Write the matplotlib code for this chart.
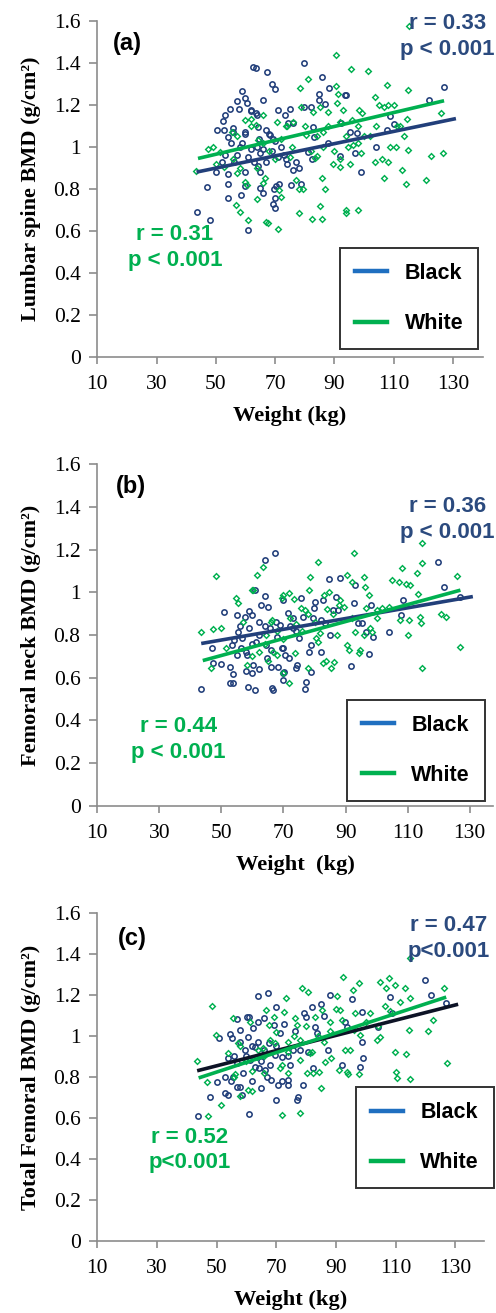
import matplotlib
matplotlib.use("Agg")
import matplotlib.pyplot as plt
from matplotlib.lines import Line2D

# ---- data (weight kg, BMD g/cm2) ----
a_black_wt = [43.7, 47.2, 48, 50.3, 53.1, 52.5, 52.6, 54, 54.8, 54, 54, 54, 55.8, 55.8, 57, 57.9,
              58.9, 60, 60.5, 60, 60, 58.4, 61, 60, 62.6, 63.7, 62, 63.6, 64.2, 64.6, 64.4, 65,
              64.8, 66, 66, 67.4, 69, 70, 67.1, 68.2, 69.3, 69.6, 70.2, 71.4, 69.3, 70, 70, 71,
              73.4, 75, 74.5, 76, 73.7, 74.1, 76, 75.3, 77, 77.9, 78.9, 79.9, 79.9, 82, 82.8, 81.1,
              82.3, 83.2, 85.8, 84.8, 84.8, 86.7, 88.1, 87.9, 91.8, 92.4, 93.7, 94, 95.2, 97.1,
              97.7, 98.9, 104, 107.9, 108.7, 110, 121.9, 126.9,
              57, 58, 59, 61, 62, 63, 64, 65, 66, 67, 68, 69, 70, 71, 72, 73, 56, 60, 62, 64,
              53, 55, 50, 52]
a_black_bmd = [0.69, 0.81, 0.65, 1.08, 1.15, 1.125, 1.08, 1.045, 1.18, 0.87, 0.825, 0.755, 1.09,
               1.07, 1.22, 1.18, 1.265, 1.235, 1.21, 1.06, 0.88, 0.77, 0.605, 0.815, 1.38, 1.375,
               1.175, 1.16, 1.095, 1.04, 0.91, 0.88, 0.805, 0.78, 1.225, 1.355, 1.30, 1.275, 1.08,
               1.055, 1.04, 0.80, 0.815, 0.825, 0.73, 0.71, 0.755, 1.175, 1.15, 1.18, 1.115, 1.115,
               0.94, 0.92, 0.89, 0.82, 0.93, 0.9, 0.825, 1.40, 1.19, 1.19, 1.095, 0.975, 0.94,
               1.045, 1.335, 1.25, 1.225, 1.205, 1.28, 1.02, 0.955, 1.115, 1.245, 1.245, 1.07,
               0.97, 1.065, 0.88, 1.0, 1.08, 1.145, 1.11, 1.225, 1.285,
               0.96, 1.0, 1.02, 0.95, 0.99, 0.93, 1.0, 0.97, 0.99, 0.93, 1.06, 0.98, 1.03, 0.95,
               1.0, 0.96, 0.93, 1.07, 1.17, 1.15, 0.96, 1.02, 0.88, 0.93]
a_white_wt = [43.3, 47.4, 49.1, 51.3, 50.2, 52.7, 55.5, 55.8, 57.3, 56.8, 58, 59.9, 60.4, 61,
              61.8, 63.6, 64.4, 63.9, 66, 66.5, 67, 67.6, 71, 71.9, 71.4, 70.5, 73.8, 75.6, 77.2,
              78, 78, 79.4, 78.5, 81, 78.8, 80.3, 82.8, 82.4, 83.5, 84.1, 85, 85, 85.8, 85.8, 86.7,
              87.9, 90.4, 90.4, 91.3, 90.8, 89.6, 91.8, 93, 94, 93.8, 94.6, 95.7, 95.4, 96.3, 97.9,
              98.2, 99.4, 99.1, 101.4, 103.8, 105, 103.8, 106, 106.6, 106.9, 107.9, 108.1, 108.7,
              110.1, 110.9, 112.9, 113.4, 114.3, 114.5, 114.8, 114.8, 115.2, 121, 122.5, 126.1,
              126.6,
              60, 62, 57, 66, 68, 70, 72, 74, 76, 80, 82, 84, 86, 88, 92, 94, 96, 98, 100, 104,
              108, 111, 112, 58, 64, 66, 75, 86, 90, 92, 98, 102]
a_white_bmd = [0.885, 0.99, 1.0, 0.975, 0.92, 0.905, 1.07, 0.94, 0.875, 0.725, 0.69, 0.835, 0.82,
               0.65, 1.135, 1.105, 1.035, 0.75, 1.15, 0.85, 0.64, 0.635, 0.61, 0.76, 0.795, 1.12,
               1.1, 1.0, 0.84, 0.80, 0.685, 0.80, 1.28, 1.325, 1.19, 1.055, 1.165, 0.655, 0.945,
               0.955, 1.19, 0.72, 0.85, 0.655, 0.80, 1.165, 1.44, 1.29, 1.25, 1.21, 0.92, 0.905,
               1.175, 0.685, 0.70, 1.0, 1.37, 0.92, 1.01, 0.70, 1.175, 1.16, 0.97, 1.36, 1.24,
               1.20, 0.93, 0.94, 0.85, 1.19, 1.295, 0.93, 1.0, 1.20, 1.0, 0.89, 1.05, 0.825, 1.135,
               0.985, 1.27, 1.575, 0.84, 0.955, 1.16, 0.97,
               1.13, 1.1, 1.05, 1.02, 0.98, 0.94, 1.04, 1.1, 1.12, 1.1, 0.98, 1.05, 1.07, 1.1,
               1.12, 1.05, 1.13, 1.1, 1.05, 1.1, 1.2, 1.1, 1.1, 0.9, 0.9, 0.83, 0.95, 1.0, 0.98,
               0.94, 1.02, 1.05]

b_black_wt = [43.5, 47.1, 47.4, 49.8, 50.8, 52.7, 52.7, 53.8, 53.5, 54.1, 53.8, 55, 54.9, 55.4,
              56.2, 56.5, 57.5, 58.1, 58.6, 58.9, 58.9, 60, 60.2, 60.9, 60.7, 61.3, 62.1, 62.6,
              63.9, 63.9, 64.5, 65, 64.8, 65.6, 66.2, 66.7, 67.4, 67.7, 68.2, 68.8, 69.6, 69.9,
              69.9, 70.1, 70.4, 71.5, 71.7, 73.1, 73.1, 74, 74.2, 74.9, 75.8, 76.3, 76.9, 77.4,
              78.3, 79, 79, 79.5, 79.9, 80.1, 82.2, 82.2, 82.7, 83.3, 84.7, 85.1, 85.9, 87, 87.5,
              88.1, 91.7, 92.6, 93.1, 93.9, 95.3, 96.6, 97.7, 98.3, 98.8, 103.9, 108.5, 108,
              119.9, 121.7, 126.8,
              56, 58, 60, 62, 64, 66, 68, 70, 72, 74, 60, 58, 62, 66, 70]
b_black_bmd = [0.547, 0.737, 0.667, 0.662, 0.906, 0.652, 0.573, 0.573, 0.753, 0.777, 0.617,
               0.894, 0.706, 0.816, 0.737, 0.784, 0.886, 0.706, 0.558, 0.914, 0.831, 0.894, 0.659,
               0.542, 1.011, 0.769, 0.863, 0.941, 1.152, 0.983, 0.753, 0.933, 0.691, 0.831, 0.55,
               0.542, 1.183, 0.863, 0.652, 0.847, 0.737, 0.964, 0.589, 0.628, 0.706, 0.902, 0.691,
               0.878, 0.831, 0.647, 0.659, 0.784, 0.972, 0.886, 0.547, 0.581, 0.722, 0.753, 0.628,
               0.878, 0.925, 0.956, 0.722, 0.870, 0.964, 0.855, 1.061, 0.80, 0.917, 0.98, 0.917,
               1.069, 0.655, 0.948, 1.034, 0.855, 0.855, 0.816, 0.711, 0.941, 0.792, 0.813, 0.964,
               0.894, 1.144, 1.023, 0.98,
               0.84, 0.72, 0.76, 0.80, 0.84, 0.73, 0.79, 0.74, 0.84, 0.82, 0.62, 0.63, 0.64, 0.65,
               0.62]
b_white_wt = [43.4, 46.8, 47.4, 48.4, 49.8, 51.6, 54.6, 55.4, 56.8, 58.1, 59.7, 60.2, 61.6, 63.4,
              64.5, 66.2, 66.7, 68, 69.4, 69.9, 71.8, 71.8, 73.3, 73.6, 75.5, 76.9, 78.3, 78.5,
              77.9, 81, 80.4, 81, 81.8, 82.6, 83.1, 83.6, 84.7, 85.2, 86.2, 87.1, 88.1, 89.4, 90.5,
              90.5, 91.2, 92.1, 92.6, 92.9, 94.2, 94.8, 95.8, 96.4, 96.6, 97.5, 97.8, 98.5, 100.1,
              101.7, 104.9, 107.1, 108.1, 107.6, 109.6, 110.1, 110.6, 110.4, 112.9, 113.2, 114,
              114.3, 114.6, 114.6, 114.6, 120.9, 122.5, 125.9, 126.8,
              60, 62, 64, 66, 68, 70, 72, 74, 76, 78, 80, 84, 86, 88, 92, 96, 100, 104, 70, 65]
b_white_bmd = [0.816, 0.644, 0.827, 1.078, 0.831, 0.737, 0.975, 0.948, 0.863, 0.659, 1.011,
               1.011, 1.081, 1.12, 0.80, 0.870, 0.722, 0.706, 0.972, 0.988, 0.998, 0.573, 0.967,
               0.714, 0.925, 0.917, 1.011, 1.07, 0.644, 1.144, 0.784, 0.769, 0.808, 0.670, 0.988,
               0.678, 1.0, 0.644, 0.675, 0.80, 0.964, 0.933, 1.081, 0.753, 0.730, 1.05, 1.186,
               0.816, 0.714, 0.730, 1.073, 1.027, 0.925, 0.988, 0.831, 0.816, 0.917, 0.925, 1.058,
               1.05, 1.116, 0.870, 1.038, 0.80, 1.034, 0.870, 1.089, 0.991, 0.886, 0.855, 1.23,
               1.139, 0.647, 0.898, 0.886, 1.078, 0.745,
               0.70, 0.72, 0.76, 0.86, 0.82, 0.78, 0.88, 0.85, 0.82, 0.90, 0.86, 0.92, 0.9, 0.94,
               0.88, 0.8, 0.88, 0.93, 0.62, 0.68]

c_black_wt = [43.7, 47.8, 50, 50.8, 52.8, 53.9, 53.9, 54.5, 55.1, 55.4, 56.8, 57, 57.9, 57.9,
              58.5, 59.6, 60.1, 61, 60.7, 61, 61.2, 62.3, 62.9, 63.8, 64, 64.4, 64.8, 65.9, 66.3,
              67.4, 67.7, 68.2, 69.1, 69.6, 69.8, 70, 70.5, 71.3, 71.9, 72.6, 73.8, 73.8, 74.7,
              75.8, 76.2, 76.9, 77.2, 78, 78.9, 79.3, 80, 80.8, 81.9, 82.5, 83, 83.8, 85, 86.1,
              87.5, 88.1, 92, 93.1, 93.7, 95.4, 98.2, 98.7, 99.1, 98.7, 104, 108, 108.8, 120, 122,
              126.9,
              55, 57, 59, 60, 62, 63, 64, 65, 66, 68, 70, 72, 74, 62, 67, 56, 58, 53]
c_black_bmd = [0.611, 0.704, 0.777, 0.989, 0.720, 0.891, 0.712, 1.010, 0.989, 0.802, 0.867,
               1.082, 1.030, 0.753, 0.712, 0.932, 1.095, 1.095, 0.997, 0.618, 0.883, 1.038, 0.948,
               1.070, 1.196, 0.842, 0.745, 1.087, 0.834, 1.212, 0.965, 0.785, 1.054, 0.908, 0.688,
               1.144, 0.761, 1.014, 0.899, 1.057, 0.761, 0.785, 0.859, 0.932, 1.025, 0.688, 0.704,
               0.932, 0.761, 1.111, 1.095, 0.924, 1.14, 0.842, 1.046, 1.014, 1.156, 1.1, 0.932,
               1.201, 0.859, 1.070, 1.046, 1.180, 0.850, 0.973, 0.891, 1.119, 1.046, 1.189, 1.114,
               1.274, 1.201, 1.163,
               0.78, 0.75, 0.82, 0.9, 0.95, 0.85, 0.97, 0.88, 0.93, 0.86, 0.95, 0.78, 0.9, 0.78,
               0.8, 0.9, 0.97, 0.8]
c_white_wt = [43.3, 46.9, 47, 48.5, 49.8, 51.4, 53.9, 55.6, 56.2, 57.3, 57.9, 60.7, 61.2, 63.4,
              65.5, 66.6, 67.7, 69.1, 69.6, 71.3, 71.9, 72.5, 73.4, 73.8, 74.1, 76.4, 76.9, 78, 78,
              78.6, 80.2, 80.8, 81.4, 82.5, 83, 84.2, 85, 85.3, 86.4, 87.9, 88.4, 90.3, 90.9, 91.4,
              92.3, 93.1, 93.7, 94.2, 94.8, 95.9, 96.5, 97.6, 97.9, 98.2, 101.5, 103.8, 104.9,
              104.9, 106.6, 106.9, 107.9, 109.9, 109.9, 110.3, 110.5, 111.6, 113.3, 113.6, 114.4,
              114.8, 115, 114.8, 120.9, 122.6, 126.2, 127.1,
              58, 60, 62, 64, 66, 68, 70, 72, 74, 76, 78, 80, 82, 84, 86, 88, 90, 92, 96, 100,
              104, 108, 62, 56, 66]
c_white_bmd = [0.878, 0.777, 0.609, 1.147, 1.005, 0.663, 0.916, 1.087, 0.815, 0.965, 0.707,
               0.736, 1.070, 0.899, 0.940, 1.127, 1.054, 1.095, 0.968, 0.842, 0.614, 1.119, 1.185,
               0.818, 0.924, 1.087, 1.054, 0.883, 0.626, 1.233, 0.818, 1.217, 0.916, 0.818, 1.095,
               0.826, 0.745, 1.127, 0.875, 1.022, 0.891, 1.196, 0.834, 1.127, 1.290, 0.932, 0.826,
               0.815, 0.932, 1.225, 1.111, 1.258, 0.815, 1.005, 1.111, 0.981, 1.266, 0.997, 1.147,
               1.233, 1.282, 1.250, 0.924, 0.826, 0.793, 1.168, 1.233, 0.912, 1.030, 1.185, 0.789,
               1.380, 1.022, 1.079, 1.233, 0.870,
               0.95, 0.88, 0.83, 0.93, 0.9, 0.98, 1.02, 0.86, 0.97, 1.0, 0.98, 1.05, 0.92, 1.0,
               0.97, 1.07, 1.13, 1.08, 1.03, 1.07, 1.05, 1.12, 0.73, 0.8, 0.82]

# trend line end points (weight, bmd) as drawn in the figure
a_black_trend = ([43.5, 131], [0.88, 1.135])
a_white_trend = ([44, 127], [0.945, 1.22])
b_black_trend = ([43.5, 131], [0.76, 0.98])
b_white_trend = ([44, 127], [0.68, 1.01])
c_black_trend = ([43.5, 131], [0.83, 1.155])
c_white_trend = ([44, 127], [0.795, 1.19])

x_ticks = [10, 30, 50, 70, 90, 110, 130]
y_ticks = [0, 0.2, 0.4, 0.6, 0.8, 1, 1.2, 1.4, 1.6]
y_tick_labels = ["0", "0.2", "0.4", "0.6", "0.8", "1", "1.2", "1.4", "1.6"]

NAVY = "#223f7a"
GREEN = "#00b050"
LEG_BLUE = "#1f6fc0"
AXIS_GRAY = "#8c8c8c"
SERIF = "Liberation Serif"
SANS = "Liberation Sans"


def draw_panel(ax, black, white, black_trend, white_trend, xmax, ylabel, xlabel,
               tag, tag_pos, blue_txt, blue_pos, green_txt, green_pos, leg_pos,
               black_line_color=NAVY):
    ax.plot(black[0], black[1], linestyle="none", marker="o", markersize=3.8,
            markerfacecolor="none", markeredgecolor=NAVY, markeredgewidth=1.15, zorder=2)
    ax.plot(white[0], white[1], linestyle="none", marker="D", markersize=2.9,
            markerfacecolor="none", markeredgecolor=GREEN, markeredgewidth=1.05, zorder=2)
    ax.plot(black_trend[0], black_trend[1], color=black_line_color, linewidth=2.6,
            solid_capstyle="butt", zorder=3)
    ax.plot(white_trend[0], white_trend[1], color=GREEN, linewidth=2.6,
            solid_capstyle="butt", zorder=3)

    ax.set_xlim(10, xmax)
    ax.set_ylim(0, 1.6)
    ax.set_xticks(x_ticks)
    ax.set_yticks(y_ticks)
    ax.set_yticklabels(y_tick_labels)
    for side in ("top", "right"):
        ax.spines[side].set_visible(False)
    for side in ("left", "bottom"):
        ax.spines[side].set_color(AXIS_GRAY)
        ax.spines[side].set_linewidth(1.2)
    ax.tick_params(axis="both", direction="out", color=AXIS_GRAY, width=1.2,
                   labelsize=15.5)
    ax.tick_params(axis="y", length=6, pad=6)
    ax.tick_params(axis="x", length=5, pad=8)
    for lab in ax.get_xticklabels() + ax.get_yticklabels():
        lab.set_fontfamily(SERIF)

    ax.set_ylabel(ylabel, fontfamily=SERIF, fontweight="bold", fontsize=16, labelpad=9)
    ax.set_xlabel(xlabel, fontfamily=SERIF, fontweight="bold", fontsize=16.2, labelpad=9)

    ax.text(tag_pos[0], tag_pos[1], tag, fontfamily=SANS, fontweight="bold", fontsize=17,
            ha="center", va="center")
    ax.text(blue_pos[0], blue_pos[1], blue_txt, fontfamily=SANS, fontweight="bold",
            fontsize=16, color="#2b4a7e", ha="center", va="center", linespacing=1.3,
            clip_on=False)
    ax.text(green_pos[0], green_pos[1], green_txt, fontfamily=SANS, fontweight="bold",
            fontsize=16, color=GREEN, ha="center", va="center", linespacing=1.3)

    handles = [Line2D([], [], color=LEG_BLUE, linewidth=3.2),
               Line2D([], [], color=GREEN, linewidth=3.2)]
    leg = ax.legend(handles, ["Black", "White"], loc="upper left", bbox_to_anchor=leg_pos,
                    frameon=True, fancybox=False, borderpad=0.7, labelspacing=1.35,
                    handlelength=1.5, handletextpad=0.8, borderaxespad=0,
                    prop={"family": SANS, "weight": "bold", "size": 15.5})
    leg.get_frame().set_edgecolor("black")
    leg.get_frame().set_linewidth(1.4)
    leg.set_zorder(5)


fig = plt.figure(figsize=(4.96, 13.13), dpi=100)

ax_a = fig.add_axes([0.196, 0.7283, 0.777, 0.2557])
draw_panel(ax_a, (a_black_wt, a_black_bmd), (a_white_wt, a_white_bmd),
           a_black_trend, a_white_trend, 140,
           "Lumbar spine BMD (g/cm²)", "Weight (kg)",
           "(a)", (20.3, 1.495), "r = 0.33\np < 0.001", (128.2, 1.525),
           "r = 0.31\np < 0.001", (36.2, 0.52), (0.63, 0.324))

ax_b = fig.add_axes([0.196, 0.3864, 0.798, 0.26])
draw_panel(ax_b, (b_black_wt, b_black_bmd), (b_white_wt, b_white_bmd),
           b_black_trend, b_white_trend, 137.5,
           "Femoral neck BMD (g/cm²)", "Weight  (kg)",
           "(b)", (20.75, 1.495), "r = 0.36\np < 0.001", (122.9, 1.341),
           "r = 0.44\np < 0.001", (36.1, 0.311), (0.63, 0.31))

ax_c = fig.add_axes([0.196, 0.0551, 0.78, 0.2494])
draw_panel(ax_c, (c_black_wt, c_black_bmd), (c_white_wt, c_white_bmd),
           c_black_trend, c_white_trend, 139.7,
           "Total Femoral BMD (g/cm²)", "Weight (kg)",
           "(c)", (21.7, 1.478), "r = 0.47\np<0.001", (127.9, 1.478),
           "r = 0.52\np<0.001", (40.9, 0.443), (0.668, 0.4685),
           black_line_color="#0d1326")

fig.savefig("out.png", dpi=100)
